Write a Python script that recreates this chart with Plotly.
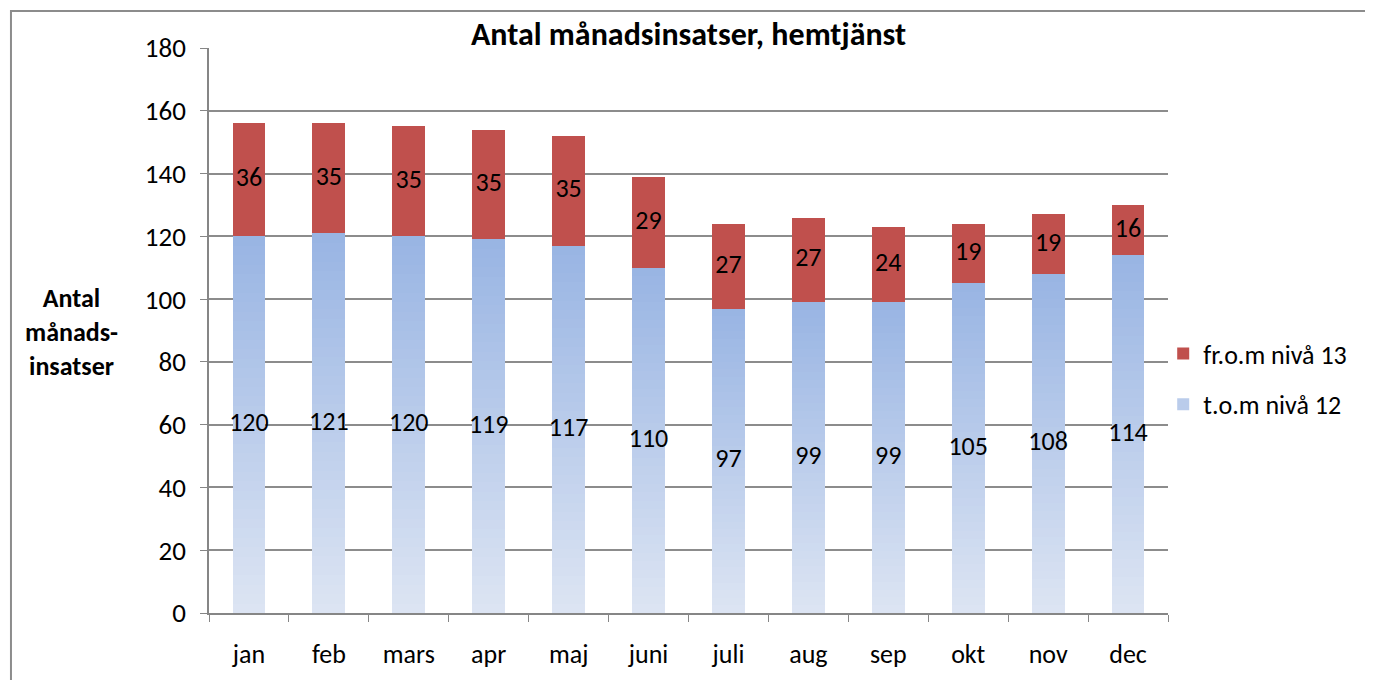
import plotly.graph_objects as go

months = ["jan", "feb", "mars", "apr", "maj", "juni", "juli", "aug", "sep", "okt", "nov", "dec"]
low_level = [120, 121, 120, 119, 117, 110, 97, 99, 99, 105, 108, 114]   # t.o.m nivå 12
high_level = [36, 35, 35, 35, 35, 29, 27, 27, 24, 19, 19, 16]          # fr.o.m nivå 13
y_ticks = [0, 20, 40, 60, 80, 100, 120, 140, 160, 180]

FONT = "Carlito, Lato, 'Liberation Sans', sans-serif"
RED = "#C0504D"
TOP_BLUE = (152, 180, 227)
BOT_BLUE = (221, 229, 243)

fig = go.Figure()

# gradient blue bars built from stacked slices of each value
N = 40
for i in range(N):
    t = (i + 0.5) / N
    c = tuple(round(BOT_BLUE[k] + (TOP_BLUE[k] - BOT_BLUE[k]) * t) for k in range(3))
    fig.add_trace(go.Bar(
        x=months, y=[v / N for v in low_level],
        marker=dict(color="rgb(%d,%d,%d)" % c, line=dict(width=0)),
        name="t.o.m nivå 12", legendgroup="low",
        showlegend=(i == N // 2), legendrank=2,
        hoverinfo="skip",
    ))

fig.add_trace(go.Bar(
    x=months, y=high_level, name="fr.o.m nivå 13",
    marker=dict(color=RED, line=dict(width=0)),
    legendgroup="high", legendrank=1,
))

# data labels
fig.add_trace(go.Scatter(
    x=months, y=[v / 2 for v in low_level], mode="text",
    text=[str(v) for v in low_level], textposition="middle center",
    textfont=dict(family=FONT, size=26, color="black"),
    showlegend=False, hoverinfo="skip",
))
fig.add_trace(go.Scatter(
    x=months, y=[lo + hi / 2 for lo, hi in zip(low_level, high_level)], mode="text",
    text=[str(v) for v in high_level], textposition="middle center",
    textfont=dict(family=FONT, size=26, color="black"),
    showlegend=False, hoverinfo="skip",
))

fig.update_layout(
    width=1373, height=680,
    barmode="stack", bargap=0.59,
    paper_bgcolor="white", plot_bgcolor="white",
    margin=dict(l=201, r=213, t=40, b=75),
    font=dict(family=FONT, size=26, color="black"),
    title=dict(text="<b>Antal månadsinsatser, hemtjänst</b>", x=0.5, xanchor="center",
               xref="paper", y=0.962, yanchor="middle",
               font=dict(family=FONT, size=32, color="black")),
    legend=dict(x=0.995, xanchor="left", y=0.414, yanchor="middle",
                font=dict(family=FONT, size=26, color="black"),
                tracegroupgap=14, itemwidth=30, bgcolor="rgba(0,0,0,0)"),
    showlegend=True,
    xaxis=dict(
        type="category", range=[-0.5, len(months) - 0.5], autorange=False,
        showgrid=False, showline=True, linecolor="#868686", linewidth=1.5,
        ticks="outside", tickson="boundaries", ticklen=7, tickcolor="#868686",
        ticklabelstandoff=17, tickfont=dict(family=FONT, size=26, color="black"),
    ),
    yaxis=dict(
        range=[0, 180], tickvals=y_ticks, showgrid=True, gridcolor="#8C8C8C", gridwidth=1.5,
        showline=True, linecolor="#868686", linewidth=1.5,
        ticks="outside", ticklen=7, tickcolor="#868686",
        ticklabelstandoff=9, tickfont=dict(family=FONT, size=27, color="black"),
        zeroline=False,
    ),
    annotations=[dict(
        text="<b>Antal<br>månads-<br>insatser</b>", xref="paper", yref="paper",
        x=-0.1435, y=0.497, xanchor="center", yanchor="middle", showarrow=False,
        align="center", font=dict(family=FONT, size=26, color="black"),
    )],
    shapes=[dict(type="rect", xref="paper", yref="paper",
                 x0=-0.2065, x1=1.4, y0=-0.3, y1=1.0655,
                 line=dict(color="#8C8C8C", width=2), fillcolor="rgba(0,0,0,0)", layer="below")],
)

fig.write_html("out.html")
